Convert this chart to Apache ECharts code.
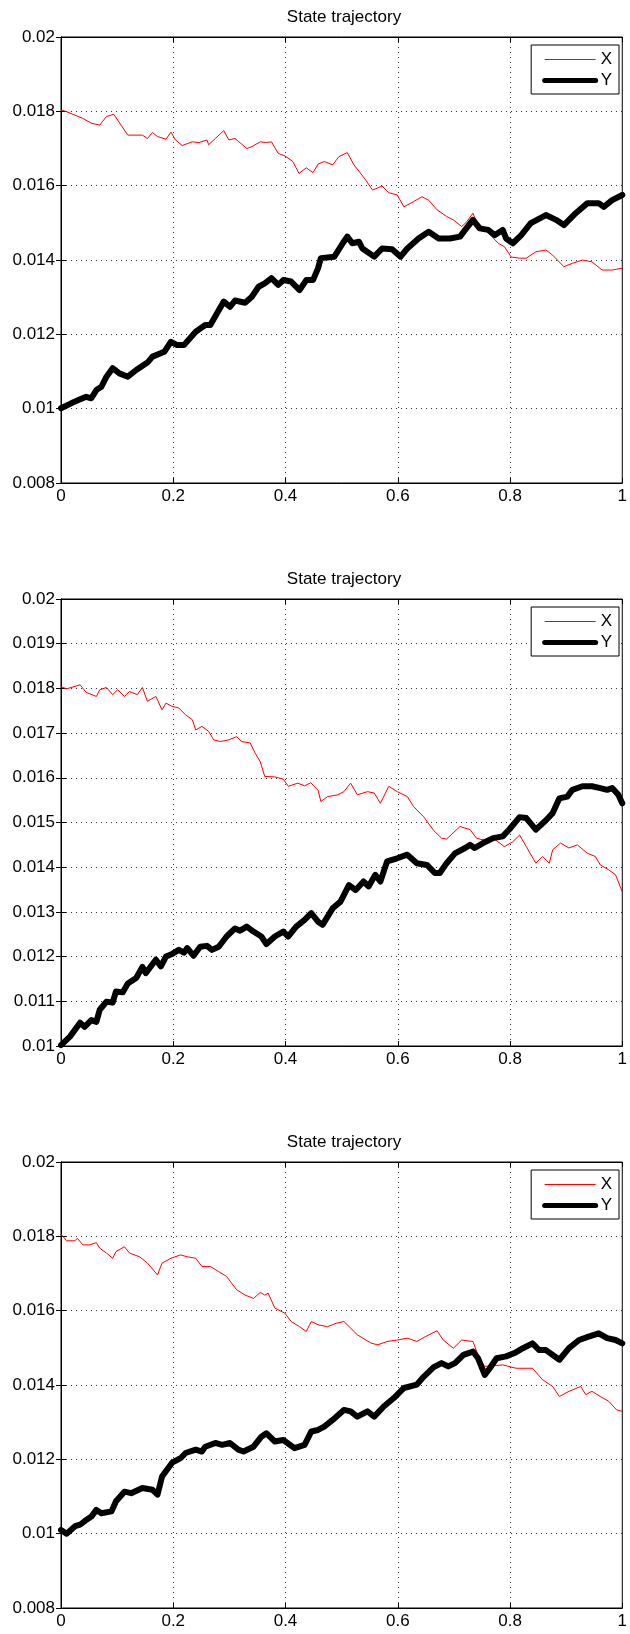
<!DOCTYPE html>
<html>
<head>
    <meta charset="utf-8">
    <title>State trajectory</title>
    <script src="https://cdn.jsdelivr.net/npm/echarts@6/dist/echarts.min.js"></script>
</head>
<body style="margin: 0; background: #fff">
    <div id="container" style="width: 630px; height: 1634px"></div>
    <script type="text/javascript">
        // 三个面板的数据：时间 t 与取值 v 分开存放
        var p1_xT = [0, 0.01, 0.039, 0.054, 0.069, 0.081, 0.094, 0.107, 0.119, 0.145, 0.154, 0.163, 0.172, 0.187, 0.196, 0.204, 0.216, 0.234, 0.246, 0.26, 0.263, 0.275, 0.29, 0.299, 0.31, 0.331, 0.34, 0.355, 0.366, 0.375, 0.387, 0.399, 0.413, 0.424, 0.437, 0.449, 0.458, 0.469, 0.484, 0.495, 0.51, 0.522, 0.543, 0.555, 0.572, 0.584, 0.599, 0.611, 0.628, 0.643, 0.655, 0.67, 0.687, 0.699, 0.714, 0.723, 0.734, 0.74, 0.757, 0.779, 0.79, 0.802, 0.817, 0.829, 0.846, 0.864, 0.876, 0.896, 0.911, 0.929, 0.946, 0.964, 0.982, 1];
        var p1_xV = [0.01804, 0.01799, 0.01781, 0.01768, 0.01763, 0.01786, 0.01792, 0.01763, 0.01736, 0.01736, 0.01727, 0.01743, 0.01732, 0.01725, 0.01744, 0.01723, 0.01708, 0.01718, 0.01716, 0.01723, 0.0171, 0.01727, 0.01748, 0.01723, 0.01727, 0.017, 0.01705, 0.01718, 0.01716, 0.01718, 0.01687, 0.0168, 0.01665, 0.01633, 0.01648, 0.01635, 0.01658, 0.01665, 0.01656, 0.01678, 0.01689, 0.01656, 0.01615, 0.01588, 0.01599, 0.01581, 0.01575, 0.01543, 0.01557, 0.0157, 0.01561, 0.01535, 0.01517, 0.01508, 0.0149, 0.01503, 0.01526, 0.01503, 0.0148, 0.01445, 0.01436, 0.01408, 0.01405, 0.01405, 0.01422, 0.01427, 0.01413, 0.01382, 0.01391, 0.014, 0.01395, 0.01373, 0.01373, 0.01378];
        var p1_yT = [0, 0.019, 0.031, 0.045, 0.054, 0.063, 0.072, 0.081, 0.092, 0.104, 0.119, 0.134, 0.154, 0.163, 0.184, 0.196, 0.207, 0.219, 0.24, 0.257, 0.266, 0.278, 0.29, 0.301, 0.31, 0.328, 0.34, 0.352, 0.363, 0.375, 0.387, 0.396, 0.41, 0.425, 0.437, 0.449, 0.458, 0.463, 0.487, 0.502, 0.51, 0.519, 0.531, 0.537, 0.558, 0.572, 0.59, 0.605, 0.617, 0.637, 0.655, 0.673, 0.693, 0.711, 0.72, 0.734, 0.746, 0.761, 0.773, 0.787, 0.793, 0.805, 0.82, 0.837, 0.864, 0.882, 0.896, 0.917, 0.938, 0.958, 0.967, 0.982, 1];
        var p1_yV = [0.01001, 0.01015, 0.01023, 0.01032, 0.01028, 0.0105, 0.01059, 0.01086, 0.01109, 0.01095, 0.01086, 0.01104, 0.01124, 0.0114, 0.01153, 0.0118, 0.01171, 0.01171, 0.01207, 0.01225, 0.01225, 0.01257, 0.01288, 0.01274, 0.01291, 0.01285, 0.01301, 0.01328, 0.01337, 0.01351, 0.01333, 0.01346, 0.01342, 0.01319, 0.01346, 0.01346, 0.01378, 0.01405, 0.01409, 0.01445, 0.01463, 0.01445, 0.01449, 0.01431, 0.01409, 0.01431, 0.01429, 0.01409, 0.01431, 0.01458, 0.01476, 0.01458, 0.01458, 0.01463, 0.01481, 0.01508, 0.01485, 0.01481, 0.01467, 0.01481, 0.01458, 0.01445, 0.01467, 0.01499, 0.01521, 0.01508, 0.01494, 0.01526, 0.01553, 0.01553, 0.01543, 0.01561, 0.01575];

        var p2_xT = [0, 0.01, 0.034, 0.045, 0.063, 0.069, 0.081, 0.092, 0.101, 0.113, 0.122, 0.136, 0.145, 0.154, 0.169, 0.18, 0.187, 0.198, 0.21, 0.222, 0.234, 0.24, 0.251, 0.263, 0.272, 0.284, 0.299, 0.313, 0.322, 0.337, 0.346, 0.355, 0.363, 0.381, 0.396, 0.405, 0.422, 0.434, 0.445, 0.458, 0.463, 0.475, 0.493, 0.504, 0.516, 0.528, 0.546, 0.558, 0.569, 0.584, 0.599, 0.617, 0.628, 0.646, 0.664, 0.678, 0.687, 0.711, 0.729, 0.74, 0.752, 0.77, 0.79, 0.805, 0.817, 0.829, 0.846, 0.858, 0.87, 0.876, 0.89, 0.905, 0.92, 0.938, 0.952, 0.961, 0.976, 0.988, 1];
        var p2_xV = [0.01804, 0.01799, 0.01808, 0.01791, 0.01782, 0.01797, 0.01802, 0.01786, 0.01797, 0.01782, 0.01793, 0.01786, 0.01802, 0.01771, 0.01782, 0.01752, 0.01767, 0.0176, 0.01756, 0.01741, 0.0173, 0.01707, 0.01715, 0.01704, 0.01685, 0.01681, 0.01685, 0.01692, 0.01681, 0.01678, 0.01655, 0.01636, 0.01603, 0.01602, 0.01597, 0.01581, 0.01588, 0.01582, 0.01589, 0.01572, 0.01547, 0.01558, 0.01562, 0.01569, 0.01588, 0.01562, 0.01569, 0.01566, 0.01543, 0.01581, 0.01569, 0.01558, 0.01536, 0.01513, 0.01482, 0.01465, 0.01463, 0.01491, 0.01484, 0.01465, 0.01461, 0.01465, 0.01446, 0.01457, 0.01472, 0.01446, 0.01409, 0.01424, 0.01409, 0.01439, 0.01454, 0.01443, 0.0145, 0.01431, 0.01424, 0.01405, 0.01394, 0.01383, 0.01345];
        var p2_yT = [0, 0.016, 0.034, 0.042, 0.054, 0.063, 0.069, 0.081, 0.092, 0.098, 0.11, 0.119, 0.134, 0.145, 0.151, 0.169, 0.178, 0.187, 0.198, 0.21, 0.219, 0.225, 0.236, 0.248, 0.26, 0.269, 0.281, 0.295, 0.31, 0.319, 0.331, 0.343, 0.357, 0.366, 0.381, 0.396, 0.405, 0.419, 0.434, 0.446, 0.458, 0.466, 0.484, 0.498, 0.513, 0.525, 0.539, 0.548, 0.56, 0.569, 0.581, 0.599, 0.617, 0.634, 0.652, 0.666, 0.675, 0.687, 0.702, 0.72, 0.729, 0.737, 0.752, 0.77, 0.787, 0.799, 0.817, 0.829, 0.846, 0.864, 0.876, 0.888, 0.902, 0.911, 0.929, 0.946, 0.961, 0.973, 0.982, 0.993, 1];
        var p2_yV = [0.01002, 0.01021, 0.01052, 0.01043, 0.01058, 0.01054, 0.01081, 0.01099, 0.01097, 0.01122, 0.0112, 0.0114, 0.01152, 0.01177, 0.01163, 0.01193, 0.01178, 0.012, 0.01206, 0.01215, 0.01209, 0.01219, 0.01202, 0.01222, 0.01224, 0.01215, 0.01222, 0.01245, 0.01263, 0.01258, 0.01267, 0.01256, 0.01245, 0.01228, 0.01245, 0.01256, 0.01245, 0.01267, 0.01282, 0.01297, 0.01278, 0.01271, 0.01308, 0.01323, 0.0136, 0.01349, 0.01368, 0.01357, 0.01383, 0.01368, 0.01413, 0.0142, 0.01428, 0.01409, 0.01405, 0.01387, 0.01387, 0.01409, 0.01431, 0.01443, 0.0145, 0.01443, 0.01454, 0.01465, 0.01469, 0.01485, 0.01512, 0.0151, 0.01484, 0.01505, 0.01521, 0.01554, 0.01558, 0.01573, 0.01581, 0.01581, 0.01577, 0.01573, 0.01577, 0.01562, 0.01543];

        var p3_xT = [0, 0.01, 0.025, 0.029, 0.039, 0.051, 0.063, 0.069, 0.081, 0.092, 0.098, 0.113, 0.122, 0.14, 0.154, 0.172, 0.18, 0.196, 0.213, 0.225, 0.24, 0.251, 0.266, 0.281, 0.295, 0.304, 0.313, 0.328, 0.343, 0.355, 0.363, 0.369, 0.381, 0.399, 0.41, 0.425, 0.437, 0.446, 0.458, 0.475, 0.49, 0.504, 0.528, 0.552, 0.564, 0.581, 0.599, 0.617, 0.634, 0.649, 0.67, 0.681, 0.699, 0.714, 0.734, 0.746, 0.755, 0.787, 0.811, 0.84, 0.858, 0.876, 0.888, 0.905, 0.926, 0.935, 0.946, 0.961, 0.976, 0.99, 1];
        var p3_xV = [0.01806, 0.01788, 0.01788, 0.01795, 0.01777, 0.01777, 0.01783, 0.01768, 0.01755, 0.01741, 0.01759, 0.01772, 0.01755, 0.01745, 0.01728, 0.01696, 0.01728, 0.01741, 0.0175, 0.01745, 0.01741, 0.01719, 0.01719, 0.01705, 0.01692, 0.01674, 0.01656, 0.01642, 0.01633, 0.01649, 0.01642, 0.01647, 0.01607, 0.01593, 0.01571, 0.01557, 0.01544, 0.01571, 0.01562, 0.01557, 0.01566, 0.01571, 0.01535, 0.01513, 0.01508, 0.01517, 0.01521, 0.01526, 0.01517, 0.0153, 0.01546, 0.01521, 0.01499, 0.01521, 0.01517, 0.01468, 0.0145, 0.01454, 0.01445, 0.01445, 0.01414, 0.01396, 0.01369, 0.01383, 0.01396, 0.01374, 0.01383, 0.01369, 0.01356, 0.01333, 0.01329];
        var p3_yT = [0, 0.01, 0.025, 0.034, 0.045, 0.054, 0.063, 0.072, 0.09, 0.098, 0.113, 0.125, 0.145, 0.163, 0.172, 0.18, 0.198, 0.213, 0.222, 0.24, 0.251, 0.257, 0.275, 0.287, 0.301, 0.316, 0.325, 0.343, 0.357, 0.366, 0.381, 0.396, 0.416, 0.434, 0.446, 0.458, 0.469, 0.484, 0.504, 0.516, 0.528, 0.546, 0.558, 0.575, 0.593, 0.611, 0.634, 0.646, 0.664, 0.678, 0.69, 0.702, 0.717, 0.734, 0.743, 0.755, 0.764, 0.776, 0.793, 0.808, 0.823, 0.84, 0.852, 0.864, 0.888, 0.905, 0.923, 0.94, 0.958, 0.973, 0.988, 1];
        var p3_yV = [0.0101, 0.01, 0.0102, 0.01024, 0.01037, 0.01046, 0.01064, 0.01055, 0.0106, 0.01087, 0.01113, 0.01109, 0.01123, 0.01118, 0.01105, 0.01154, 0.01191, 0.01203, 0.01217, 0.01226, 0.01221, 0.01234, 0.01244, 0.01239, 0.01244, 0.01226, 0.01221, 0.01234, 0.01261, 0.0127, 0.01248, 0.01252, 0.0123, 0.01239, 0.01275, 0.01279, 0.01288, 0.01306, 0.01333, 0.01329, 0.01315, 0.01329, 0.01315, 0.01342, 0.01365, 0.01392, 0.01401, 0.01422, 0.01448, 0.01459, 0.0145, 0.01459, 0.01481, 0.0149, 0.01472, 0.01427, 0.01445, 0.01472, 0.01477, 0.01486, 0.01499, 0.01512, 0.01494, 0.01494, 0.01468, 0.01499, 0.01521, 0.0153, 0.01539, 0.01526, 0.01521, 0.01512];

        var titleText = 'State trajectory';
        var seriesNames = ['X', 'Y'];
        var seriesWidths = [1, 6];

        var FONT = 'Liberation Sans, Arial, Helvetica, sans-serif';

        // 面板位置（像素）
        var panels = [
            { top: 37, height: 446, ymin: 0.008, ymax: 0.02, step: 0.002, xT: p1_xT, xV: p1_xV, yT: p1_yT, yV: p1_yV },
            { top: 599, height: 447, ymin: 0.01, ymax: 0.02, step: 0.001, xT: p2_xT, xV: p2_xV, yT: p2_yT, yV: p2_yV },
            { top: 1162, height: 446, ymin: 0.008, ymax: 0.02, step: 0.002, xT: p3_xT, xV: p3_xV, yT: p3_yT, yV: p3_yV }
        ];

        function pairs(t, v) {
            var out = [];
            for (var i = 0; i < t.length; i++) out.push([t[i], v[i]]);
            return out;
        }
        function fmt(v) {
            return String(parseFloat(v.toFixed(4)));
        }

        var grid = [], xAxis = [], yAxis = [], series = [], legend = [], graphic = [];
        var gridLine = { show: true, lineStyle: { color: '#333', width: 1, type: [1, 4] } };
        var tickIn = { show: true, inside: true, length: 5, lineStyle: { color: '#000' } };
        var blackLine = { show: true, lineStyle: { color: '#000', width: 1 } };
        var label = { color: '#000', fontSize: 17, fontFamily: FONT };

        panels.forEach(function (p, i) {
            grid.push({ left: 61, width: 566, top: p.top, height: p.height, show: true, borderColor: '#000', borderWidth: 1, backgroundColor: '#fff' });
            // 下、上 x 轴
            xAxis.push({
                type: 'value', gridIndex: i, position: 'bottom', min: 0, max: 1, interval: 0.2,
                axisLine: blackLine, axisTick: tickIn, splitLine: gridLine,
                axisLabel: Object.assign({ margin: 5, formatter: fmt }, label)
            });
            xAxis.push({
                type: 'value', gridIndex: i, position: 'top', min: 0, max: 1, interval: 0.2,
                axisLine: blackLine, axisTick: tickIn, splitLine: { show: false }, axisLabel: { show: false }
            });
            // 左、右 y 轴
            yAxis.push({
                type: 'value', gridIndex: i, position: 'left', min: p.ymin, max: p.ymax, interval: p.step,
                axisLine: blackLine, axisTick: tickIn, splitLine: gridLine,
                axisLabel: Object.assign({ margin: 6, formatter: fmt }, label)
            });
            yAxis.push({
                type: 'value', gridIndex: i, position: 'right', min: p.ymin, max: p.ymax, interval: p.step,
                axisLine: blackLine, axisTick: tickIn, splitLine: { show: false }, axisLabel: { show: false }
            });

            series.push({
                name: seriesNames[0], type: 'line', xAxisIndex: 2 * i, yAxisIndex: 2 * i,
                symbol: 'none', animation: false, z: 3,
                lineStyle: { color: '#ff0000', width: seriesWidths[0] }, itemStyle: { color: '#ff0000' },
                data: pairs(p.xT, p.xV)
            });
            series.push({
                name: seriesNames[1], type: 'line', xAxisIndex: 2 * i, yAxisIndex: 2 * i,
                symbol: 'none', animation: false, z: 4,
                lineStyle: { color: '#000', width: seriesWidths[1], join: 'round', cap: 'round' }, itemStyle: { color: '#000' },
                data: pairs(p.yT, p.yV)
            });

            // 图例：只显示线，不显示圆点，线宽跟随系列
            legend.push({
                data: [
                    { name: seriesNames[0], lineStyle: { width: seriesWidths[0] } },
                    { name: seriesNames[1], lineStyle: { width: 5 } }
                ],
                orient: 'vertical', right: 11, top: p.top + 8,
                backgroundColor: '#fff', borderColor: '#000', borderWidth: 1,
                padding: [6, 7, 5, 11], itemGap: 4, itemWidth: 51, itemHeight: 14,
                itemStyle: { opacity: 0 },
                textStyle: { color: '#000', fontSize: 17, fontFamily: FONT },
                selectedMode: false
            });

            graphic.push({
                type: 'text', x: 344, y: p.top - 20,
                style: { text: titleText, fill: '#000', fontSize: 17, fontFamily: FONT, align: 'center', verticalAlign: 'middle', textAlign: 'center', textVerticalAlign: 'middle' }
            });
        });

        var myChart = echarts.init(document.getElementById('container'), null, { renderer: 'canvas' });
        var option = {
            backgroundColor: '#fff',
            animation: false,
            grid: grid,
            xAxis: xAxis,
            yAxis: yAxis,
            legend: legend,
            graphic: graphic,
            series: series
        };
        myChart.setOption(option);
    </script>
</body>
</html>
